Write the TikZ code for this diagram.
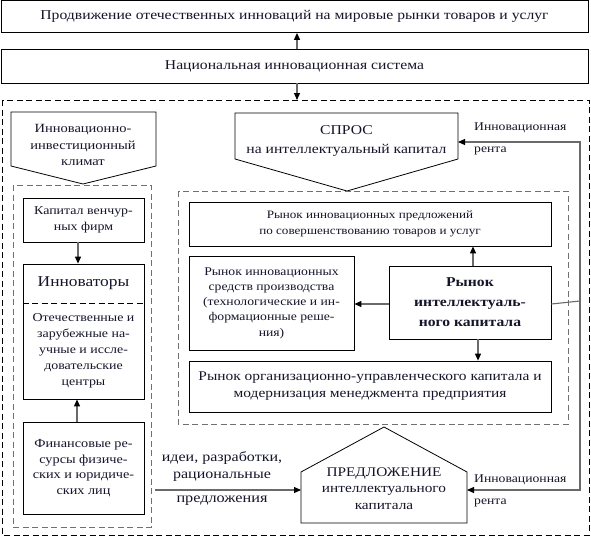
\documentclass[tikz,border=0pt]{standalone}
\usepackage{fontspec}
\setmainfont{Liberation Serif}[FakeStretch=1.16]
\usetikzlibrary{arrows.meta}
\definecolor{txt}{HTML}{15152A}
\definecolor{conn}{HTML}{6A6A6A}
\definecolor{dgray}{HTML}{707070}
\begin{document}
\begin{tikzpicture}[x=1pt,y=-1pt,
  every node/.style={text=txt},
  box/.style={draw=black, line width=0.8pt, inner sep=0pt, align=center, font=\fontsize{12}{15.5}\selectfont},
  plain/.style={inner sep=0pt, align=center, font=\fontsize{12}{15.5}\selectfont},
  outline/.style={draw=black, line width=0.8pt},
  garr/.style={draw=conn, line width=1.1pt, -{Triangle[length=7pt,width=6pt,color=black]}},
  gline/.style={draw=conn, line width=1.1pt},
  blackdash/.style={draw=black, line width=0.8pt, dash pattern=on 6pt off 3.5pt},
  graydash/.style={draw=dgray, line width=1pt, dash pattern=on 6pt off 3.5pt}
]
\useasboundingbox (0,0) rectangle (591,538);

% top boxes
\node[box, minimum width=587pt, minimum height=32pt, font=\fontsize{13.5}{15}\selectfont] (top) at (294.5,16.5) {Продвижение отечественных инноваций на мировые рынки товаров и услуг};
\node[box, minimum width=587pt, minimum height=34pt, font=\fontsize{13.5}{15}\selectfont] (nis) at (294.5,66) {Национальная инновационная система};

% outer dashed frame
\draw[blackdash] (2,100) rectangle (589,535);
\coordinate (outN) at (297,100);

\draw[garr] ([xshift=2.5pt]nis.north) -- ([xshift=2.5pt]top.south);
\draw[garr] ([xshift=2.5pt]nis.south) -- (outN);

% ---------- left column ----------
\coordinate (cl1) at (11,112);
\coordinate (cl2) at (156,112);
\coordinate (cl3) at (156,166);
\coordinate (cl4) at (83,184);
\coordinate (cl5) at (11,166);
\draw[outline] (cl1) -- (cl2) -- (cl3) -- (cl4) -- (cl5) -- cycle;
\node[plain, font=\fontsize{12.5}{16.5}\selectfont] (climate) at (83,145) {Инновационно-\\инвестиционный\\климат};

\draw[graydash] (13,185) rectangle (151,527);

\node[box, minimum width=121pt, minimum height=44pt] (cap) at (83.5,220) {Капитал венчур-\\ных фирм};
\node[box, minimum width=121pt, minimum height=135pt] (inn) at (83.5,331.5) {};
\node[plain, font=\fontsize{15}{18}\selectfont] (inntitle) at (83.5,283) {Инноваторы};
\draw[blackdash] (inn.west |- 0,303) -- (inn.east |- 0,303);
\node[plain, font=\fontsize{12}{16}\selectfont] (centers) at (83.5,351) {Отечественные и\\зарубежные на-\\учные и иссле-\\довательские\\центры};
\node[box, minimum width=121pt, minimum height=92pt, font=\fontsize{12.3}{15.5}\selectfont] (fin) at (83.5,468) {Финансовые ре-\\сурсы физиче-\\ских и юридиче-\\ских лиц};

\draw[garr] ([xshift=-5.5pt]cap.south) -- ([xshift=-5.5pt]inn.north);
\draw[garr] ([xshift=-6.5pt]fin.north) -- ([xshift=-6.5pt]inn.south);

% ---------- right part ----------
\coordinate (sp1) at (235,113);
\coordinate (sp2) at (458,113);
\coordinate (sp3) at (458,159);
\coordinate (sp4) at (347,191);
\coordinate (sp5) at (235,159);
\draw[outline] (sp1) -- (sp2) -- (sp3) -- (sp4) -- (sp5) -- cycle;
\node[plain, font=\fontsize{13.5}{19}\selectfont] (spros) at (346.5,140.5) {СПРОС\\на интеллектуальный капитал};
\coordinate (sprosE) at (458,142);

\draw[graydash] (178,191) rectangle (568,424);

\node[box, minimum width=362pt, minimum height=44pt, font=\fontsize{11.3}{15.5}\selectfont] (m1) at (370,224) {Рынок инновационных предложений\\по совершенствованию товаров и услуг};
\node[box, minimum width=165pt, minimum height=94pt, font=\fontsize{11.8}{15.3}\selectfont] (m2) at (271.5,303) {Рынок инновационных\\средств производства\\(технологические и ин-\\формационные реше-\\ния)};
\node[box, minimum width=162pt, minimum height=73pt, font=\bfseries\fontsize{13.5}{20}\selectfont] (ic) at (470,302.5) {Рынок\\интеллектуаль-\\ного капитала};
\node[box, minimum width=362pt, minimum height=51pt, font=\fontsize{13.3}{17}\selectfont] (org) at (370,386.5) {Рынок организационно-управленческого капитала и\\модернизация менеджмента предприятия};

\draw[garr] ([xshift=3pt]ic.north) -- ([xshift=3pt]ic.north |- m1.south);
\draw[garr] ([yshift=-1.5pt]ic.west) -- ([yshift=-1.5pt]ic.west -| m2.east);
\draw[garr] ([xshift=8pt]ic.south) -- ([xshift=8pt]ic.south |- org.north);

% house
\coordinate (h1) at (301,523);
\coordinate (h2) at (301,472);
\coordinate (h3) at (384,427);
\coordinate (h4) at (467,472);
\coordinate (h5) at (467,523);
\draw[outline] (h1) -- (h2) -- (h3) -- (h4) -- (h5) -- cycle;
\node[plain, font=\fontsize{13.2}{16.5}\selectfont] (offer) at (384,488.5) {ПРЕДЛОЖЕНИЕ\\интеллектуального\\капитала};
\coordinate (houseW) at (301,490);
\coordinate (houseE) at (467,490);

% rent connectors
\coordinate (vTop) at (580,142);
\coordinate (vBot) at (580,490);
\coordinate (vMid) at (580,301);
\draw[garr] (vMid) -- (vTop) -- (sprosE);
\draw[garr] (vMid) -- (vBot) -- (houseE);
\draw[gline] ([yshift=-1.5pt]ic.east) -- (vMid);

\node[plain, anchor=west, font=\fontsize{11.8}{15}\selectfont] (rent1a) at (474,127.5) {Инновационная};
\node[plain, anchor=west, font=\fontsize{11.8}{15}\selectfont] (rent1b) at (474,151) {рента};
\node[plain, anchor=west, font=\fontsize{11.8}{15}\selectfont] (rent2a) at (474,480) {Инновационная};
\node[plain, anchor=west, font=\fontsize{11.8}{15}\selectfont] (rent2b) at (474,502.5) {рента};

% ideas connector
\coordinate (ideas) at (155,490);
\draw[garr] (ideas) -- (houseW);
\node[plain, font=\fontsize{13.8}{17}\selectfont] (ideastxt) at (222,466.5) {идеи, разработки,\\рациональные};
\node[plain, font=\fontsize{14}{15}\selectfont] (ideastxt2) at (222,501) {предложения};
\end{tikzpicture}
\end{document}
